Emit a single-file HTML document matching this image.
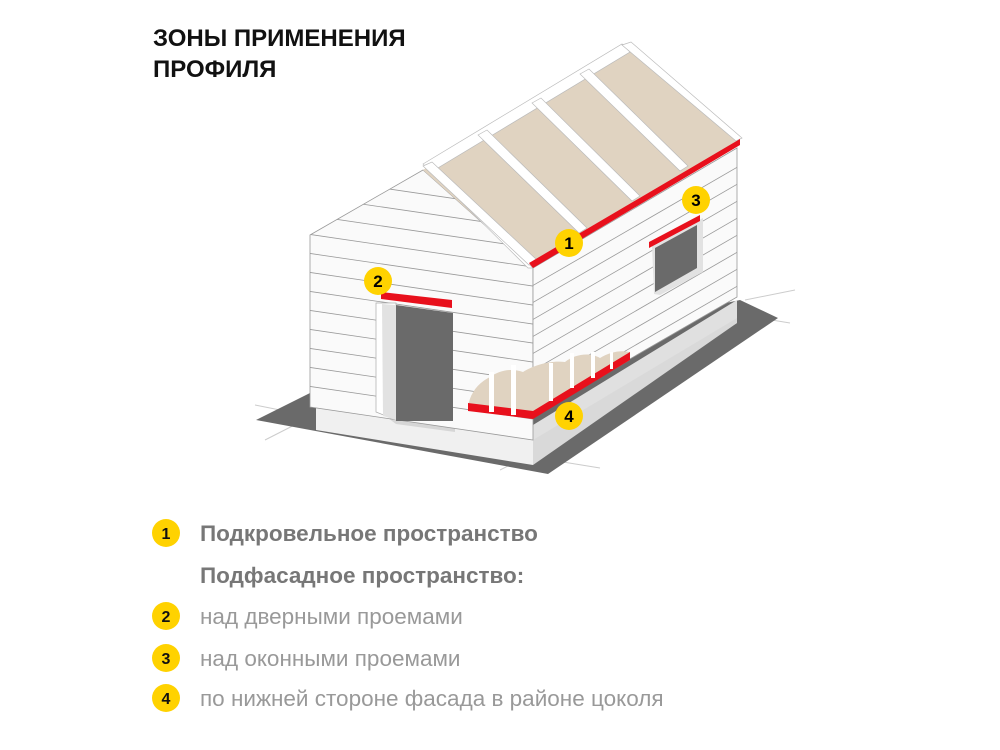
<!DOCTYPE html>
<html><head><meta charset="utf-8"><style>
html,body{margin:0;padding:0;background:#fff}
svg{display:block}
</style></head><body>
<svg width="1000" height="750" viewBox="0 0 1000 750" xmlns="http://www.w3.org/2000/svg">
<defs>
<clipPath id="fw"><polygon points="310,235 423,170 533,268 533,440 310,407"/></clipPath>
<clipPath id="sw"><polygon points="533,268 737,148 737,297 533,415"/></clipPath>
</defs>
<!-- title -->
<text x="153" y="46" font-family="Liberation Sans, sans-serif" font-weight="bold" font-size="24" fill="#111">ЗОНЫ ПРИМЕНЕНИЯ</text>
<text x="153" y="77" font-family="Liberation Sans, sans-serif" font-weight="bold" font-size="24" fill="#111">ПРОФИЛЯ</text>
<!-- ground lines -->
<g stroke="#ccc" stroke-width="1">
<line x1="255" y1="405" x2="330" y2="420"/><line x1="265" y1="440" x2="320" y2="412"/>
<line x1="500" y1="470" x2="560" y2="440"/><line x1="520" y1="455" x2="600" y2="468"/>
<line x1="745" y1="300" x2="795" y2="290"/><line x1="760" y1="318" x2="790" y2="323"/>
</g>
<!-- ground -->
<polygon points="256,420 316,390 740,300 778,318 548,474" fill="#6a6a6a"/>
<!-- plinth -->
<polygon points="316,390 533,425 533,465 316,430" fill="#f0f0f0"/>
<polygon points="533,425 737,300 737,323 533,445 533,465" fill="#e0e0e0"/>
<polygon points="533,440 737,318 737,323 533,465" fill="#d9d9d9"/>
<polygon points="380,412 455,420 455,432 396,424" fill="#d6d6d6"/>
<!-- front wall -->
<polygon points="310,235 423,170 533,268 533,440 310,407" fill="#fafafa" stroke="#999" stroke-width="0.8"/>
<g clip-path="url(#fw)" stroke="#999" stroke-width="0.8">
<line x1="300" y1="176" x2="560" y2="214"/><line x1="300" y1="195" x2="560" y2="233"/>
<line x1="300" y1="214" x2="560" y2="252"/><line x1="300" y1="233" x2="560" y2="271"/>
<line x1="300" y1="252" x2="560" y2="290"/><line x1="300" y1="271" x2="560" y2="309"/>
<line x1="300" y1="290" x2="560" y2="328"/><line x1="300" y1="309" x2="560" y2="347"/>
<line x1="300" y1="328" x2="560" y2="366"/><line x1="300" y1="347" x2="560" y2="385"/>
<line x1="300" y1="366" x2="560" y2="404"/><line x1="300" y1="385" x2="560" y2="423"/>
</g>
<!-- side wall -->
<polygon points="533,268 737,148 737,297 533,415" fill="#fafafa" stroke="#999" stroke-width="0.8"/>
<g clip-path="url(#sw)" stroke="#999" stroke-width="0.8">
<line x1="520" y1="293" x2="760" y2="154"/><line x1="520" y1="310" x2="760" y2="171"/>
<line x1="520" y1="327" x2="760" y2="188"/><line x1="520" y1="344" x2="760" y2="205"/>
<line x1="520" y1="361" x2="760" y2="222"/><line x1="520" y1="378" x2="760" y2="239"/>
<line x1="520" y1="395" x2="760" y2="256"/><line x1="520" y1="412" x2="760" y2="273"/>
<line x1="520" y1="429" x2="760" y2="290"/>
</g>
<!-- roof -->
<polygon points="423,170 622,45 740,140 533,268" fill="#e0d3c1"/>
<g fill="#fff" stroke="#bbb" stroke-width="0.7">
<polygon points="423,164 622,44 630,52 433,171 533,268 528,268"/>
<polygon points="423,166 432,162 537,260 529,265"/>
<polygon points="478,135 487,130 587,228 579,233"/>
<polygon points="532,103 541,98 640,196 632,201"/>
<polygon points="580,74 589,69 688,166 680,171"/>
<polygon points="622,45 631,42 742,138 736,141"/>
</g>
<!-- roof red eave -->
<polygon points="529,263 740,139 740,145 533,268" fill="#e8101c"/>
<!-- door -->
<polygon points="376,303 396,303 396,420 376,412" fill="#fff" stroke="#aaa" stroke-width="0.7"/>
<polygon points="382,304 396,305 396,420 383,416" fill="#e2e2e2"/>
<polygon points="396,305 453,313 453,421 396,421" fill="#6a6a6a"/>
<polygon points="381,292 452,300 452,308 381,299" fill="#e8101c"/>
<!-- window -->
<polygon points="652,245 703,218 703,272 660,295 654,294" fill="#e2e2e2"/>
<polygon points="655,248 697,225 697,268 655,292" fill="#6a6a6a"/>
<polygon points="649,242 700,215 700,221 649,248" fill="#e8101c"/>
<!-- insulation cutout -->
<path d="M468,407 C470,393 478,383 490,377 C500,370 512,368 523,372 C532,366 550,360 565,362 C575,354 590,352 600,358 C610,352 620,350 630,352 L630,360 L533,418 L468,410 Z" fill="#e0d3c1"/>
<polygon points="468,403 533,411 630,352 630,360 533,419 468,411" fill="#e8101c"/>
<g fill="#fff">
<rect x="489" y="372" width="5" height="40"/>
<rect x="511" y="365" width="5" height="50"/>
<rect x="549" y="363" width="4" height="38"/>
<rect x="570" y="353" width="4" height="35"/>
<rect x="591" y="352" width="4" height="26"/>
<rect x="610" y="352" width="3" height="17"/>
</g>
<!-- markers -->
<g font-family="Liberation Sans, sans-serif" font-weight="bold" font-size="17" text-anchor="middle">
<circle cx="569" cy="243" r="14" fill="#ffd200"/><text x="569" y="249">1</text>
<circle cx="378" cy="281" r="14" fill="#ffd200"/><text x="378" y="287">2</text>
<circle cx="696" cy="200" r="14" fill="#ffd200"/><text x="696" y="206">3</text>
<circle cx="569" cy="416" r="14" fill="#ffd200"/><text x="569" y="422">4</text>
</g>
<!-- legend -->
<g font-family="Liberation Sans, sans-serif" font-weight="bold" font-size="16" text-anchor="middle" fill="#111">
<circle cx="166" cy="533" r="14" fill="#ffd200"/><text x="166" y="539">1</text>
<circle cx="166" cy="616" r="14" fill="#ffd200"/><text x="166" y="622">2</text>
<circle cx="166" cy="658" r="14" fill="#ffd200"/><text x="166" y="664">3</text>
<circle cx="166" cy="698" r="14" fill="#ffd200"/><text x="166" y="704">4</text>
</g>
<g font-family="Liberation Sans, sans-serif" font-size="22.5">
<text x="200" y="541" font-weight="bold" fill="#777">Подкровельное пространство</text>
<text x="200" y="583" font-weight="bold" fill="#777">Подфасадное пространство:</text>
<text x="200" y="624" fill="#999">над дверными проемами</text>
<text x="200" y="666" fill="#999">над оконными проемами</text>
<text x="200" y="706" fill="#999">по нижней стороне фасада в районе цоколя</text>
</g>
</svg>
</body></html>
